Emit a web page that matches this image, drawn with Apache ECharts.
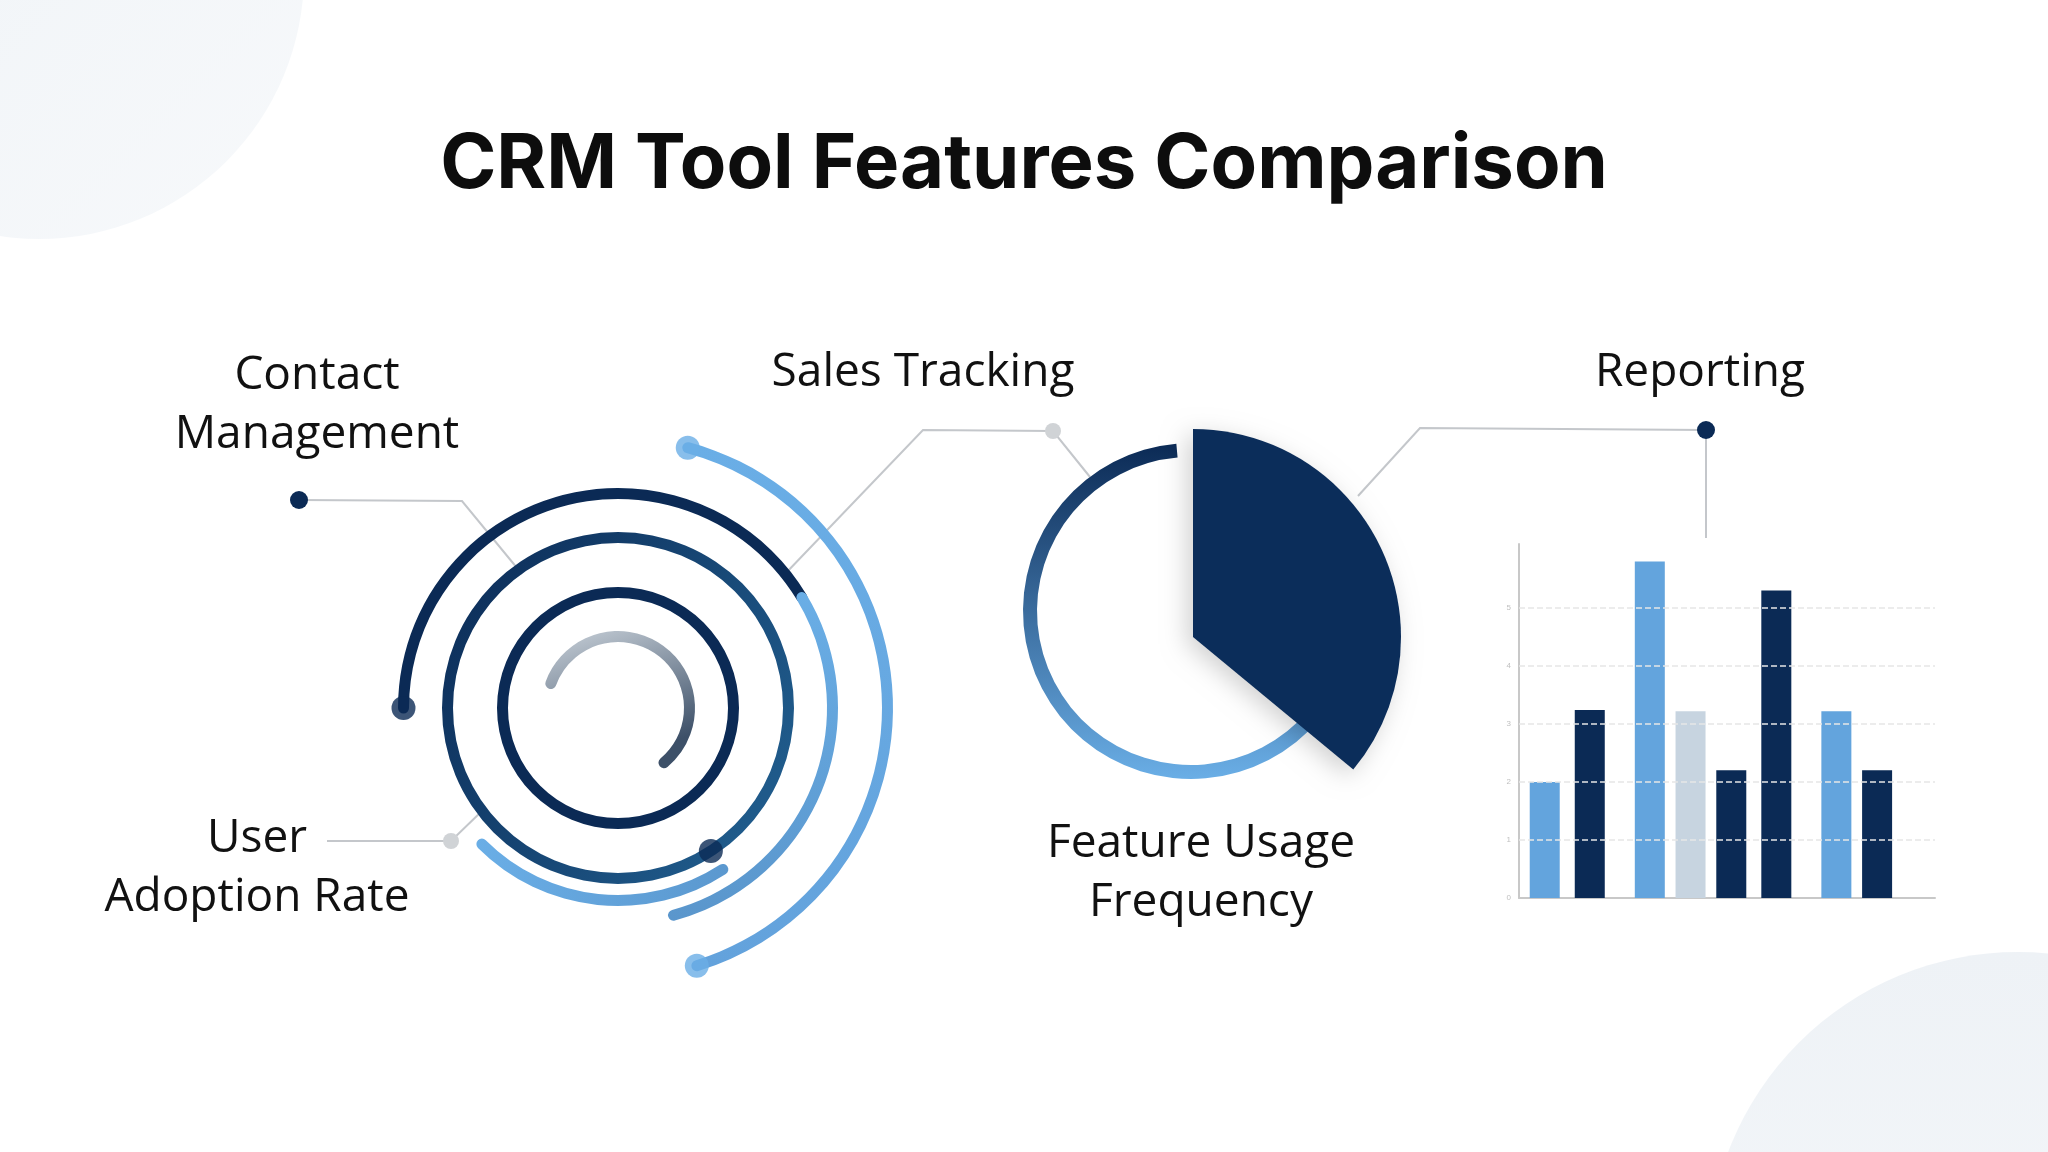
<!DOCTYPE html>
<html><head><meta charset="utf-8">
<script src="https://cdn.jsdelivr.net/npm/echarts@6/dist/echarts.min.js"></script>
<style>html,body{margin:0;padding:0;background:#fff}#c{width:2048px;height:1152px}</style>
</head><body><div id="c"></div>
<script>
// ---- data ----
const title = 'CRM Tool Features Comparison';
const labels = ['Contact\nManagement','Sales Tracking','Reporting','User\nAdoption Rate','Feature Usage\nFrequency'];
// spiral rings (radius category index, start angle, sweep 1, sweep 2)
const ringIndex = [6,10,15,17,19,24];
const ringStart = [20,0,0,237,0,105];
const ringSweep1 = [210,360,360,78,149,148];
const ringSweep2 = [0,0,0,0,106,0];
const spiralDots = [[19,0,'#0b2a55'],[15,237,'#0b2a55'],[24,105,'#6aaee6'],[24,253,'#6aaee6']];
// feature usage donut
const usageShare = [36,64];
const ringArc = [225,135];
// reporting bars
const barPos = [0.6,1.65,3.05,4.0,4.95,6.0,7.4,8.35];
const barValues = [2.0,3.24,5.8,3.22,2.2,5.3,3.22,2.2];
const barColors = ['#63a4dd','#0b2a55','#63a4dd','#c7d4e0','#0b2a55','#0b2a55','#63a4dd','#0b2a55'];
const yTicks = [1,2,3,4,5];

const NAVY='#0b2a55';
const chart = echarts.init(document.getElementById('c'));
const cats = Array.from({length:26},(_,i)=>i);
function ringArr(vals){const a=cats.map(()=>null);ringIndex.forEach((r,i)=>{a[r]=vals[i]||null});return a;}
const g = (c1,c2,x2,y2)=>new echarts.graphic.LinearGradient(0,0,x2,y2,[{offset:0,color:c1},{offset:1,color:c2}]);
const seg1Colors = [g('#c9d1d9','#3d5068',0.3,1), NAVY, g('#0b2a55','#1f5a8a',1,0.6), g('#6aaee6','#5b98cf',1,0), NAVY, g('#6aaee6','#63a2dc',0,1)];
const seg1Data = cats.map(()=>null);
ringIndex.forEach((r,i)=>{seg1Data[r]={value:ringSweep1[i],itemStyle:{color:seg1Colors[i]}};});
const seg2Data = cats.map(()=>null);
ringIndex.forEach((r,i)=>{if(ringSweep2[i]) seg2Data[r]={value:ringSweep2[i],itemStyle:{color:g('#6aaee6','#5a96cc',0,1)}};});

const lineStyle={stroke:'#c4c7cb',lineWidth:2};
const textStyle=(x,y,t)=>({type:'text',x:x,y:y,style:{text:t,font:'46px "Open Sans"',fill:'#111',align:'center',verticalAlign:'middle',lineHeight:59}});
chart.setOption({
  backgroundColor:'#ffffff',
  title:{text:title,left:'center',top:122,textStyle:{fontFamily:'Inter',fontWeight:'bold',fontSize:76,color:'#0d0d0d'}},
  graphic:[
    {type:'circle',z:-10,shape:{cx:39,cy:-26,r:265},style:{fill:g('#eef2f6','#f7f9fb',1,1)}},
    {type:'circle',z:-10,shape:{cx:2018,cy:1262,r:310},style:{fill:g('#eef2f6','#f7f9fb',0,1)}},
    {type:'polyline',shape:{points:[[299,500],[462,501],[522,574]]},style:lineStyle},
    {type:'circle',shape:{cx:299,cy:500,r:9},style:{fill:NAVY}},
    {type:'polyline',shape:{points:[[784,575],[923,430],[1053,431],[1090,477]]},style:lineStyle},
    {type:'circle',shape:{cx:1053,cy:431,r:8},style:{fill:'#d0d3d6'}},
    {type:'polyline',shape:{points:[[1358,496],[1420,428],[1706,430],[1706,538]]},style:lineStyle},
    {type:'circle',shape:{cx:1706,cy:430,r:9},style:{fill:NAVY}},
    {type:'polyline',shape:{points:[[327,841],[451,841],[483,810]]},style:lineStyle},
    {type:'circle',shape:{cx:451,cy:841,r:8},style:{fill:'#d0d3d6'}},
    textStyle(317,405,labels[0]),
    textStyle(923,373,labels[1]),
    textStyle(1700,373,labels[2]),
    textStyle(257,868,labels[3]),
    textStyle(1201,873,labels[4])
  ],
  polar:{center:[618,708],radius:[0,286]},
  angleAxis:{type:'value',min:0,max:360,startAngle:180,clockwise:true,show:false,splitLine:{show:false}},
  radiusAxis:{type:'category',data:cats,show:false},
  grid:{left:1519,right:113,top:544,bottom:254},
  xAxis:{type:'value',min:0,max:9.7,show:true,axisLine:{show:true,lineStyle:{color:'#c8c8c8',width:2}},axisTick:{show:false},axisLabel:{show:false},splitLine:{show:false}},
  yAxis:{type:'value',min:0,max:6.1,interval:1,axisLine:{show:true,lineStyle:{color:'#c8c8c8',width:2}},axisTick:{show:false},
    axisLabel:{fontSize:8,color:'#c0c0c0',showMaxLabel:false,formatter:v=>v>5?'':v},splitLine:{show:false}},
  series:[
    {type:'bar',coordinateSystem:'polar',stack:'s',barWidth:16,data:ringArr(ringStart),itemStyle:{color:'transparent'},silent:true},
    {type:'bar',coordinateSystem:'polar',stack:'s',barWidth:16,roundCap:true,data:seg1Data},
    {type:'bar',coordinateSystem:'polar',stack:'s',barWidth:16,roundCap:true,data:seg2Data},
    {type:'scatter',coordinateSystem:'polar',symbolSize:24,z:5,data:spiralDots.map(d=>({value:[d[0],d[1]],itemStyle:{color:d[2]}}))},
    {type:'pie',center:[1191,611],radius:[154,168],startAngle:95,clockwise:false,label:{show:false},silent:true,
      data:[{value:ringArc[0],itemStyle:{color:g(NAVY,'#6aaee6',0,1)}},{value:ringArc[1],itemStyle:{color:'transparent'}}]},
    {type:'pie',center:[1193,637],radius:[0,208],startAngle:90,clockwise:true,label:{show:false},silent:true,
      data:[{value:usageShare[0],itemStyle:{color:'#0b2d5a',shadowBlur:25,shadowColor:'rgba(0,0,0,0.18)',shadowOffsetX:-6,shadowOffsetY:6}},{value:usageShare[1],itemStyle:{color:'transparent'}}]},
    {type:'bar',barWidth:30,data:barPos.map((p,i)=>({value:[p,barValues[i]],itemStyle:{color:barColors[i]}})),
      markLine:{silent:true,symbol:'none',label:{show:false},lineStyle:{color:'#e6e6e6',type:'dashed',width:1.5},data:yTicks.map(v=>({yAxis:v}))}}
  ]
});
</script></body></html>
